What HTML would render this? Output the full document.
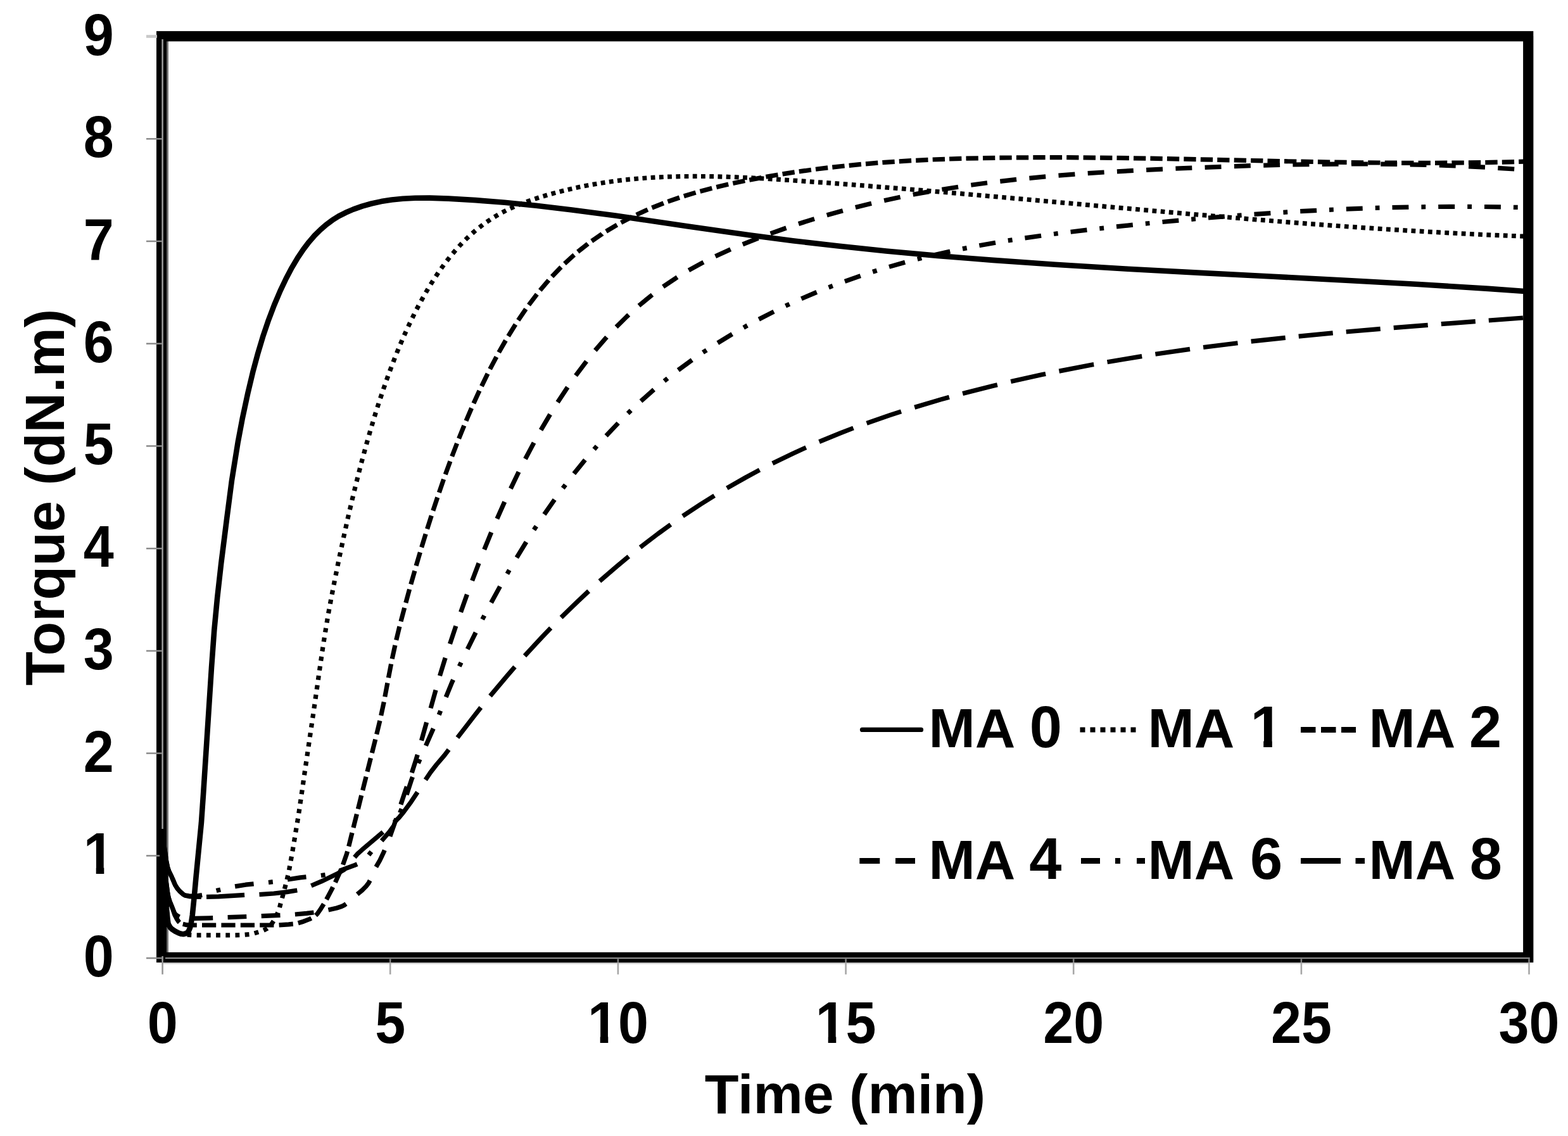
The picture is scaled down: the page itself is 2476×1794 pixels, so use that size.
<!DOCTYPE html>
<html lang="en"><head><meta charset="utf-8"><title>Torque vs Time</title>
<style>html,body{margin:0;padding:0;background:#fff}body{width:2476px;height:1794px;overflow:hidden}svg{display:block}svg{filter:blur(0.6px)}text{font-family:'Liberation Sans', Arial, Helvetica, sans-serif;font-weight:700;font-size:88px;fill:#000}.c{fill:none;stroke:#000;stroke-width:7.2;stroke-linejoin:round}.r{stroke-linecap:butt}</style></head><body>
<svg xmlns="http://www.w3.org/2000/svg" width="2476" height="1794" viewBox="0 0 2476 1794">
<rect width="2476" height="1794" fill="#fff"/>
<rect x="263" y="65" width="3" height="1440" fill="#777"/>
<rect x="255" y="1519" width="2160" height="3.4" fill="#ccc"/>
<rect x="2420" y="57" width="3" height="1460" fill="#eee"/>
<rect x="255.1" y="57.25" width="2158.1" height="1454.7" fill="none" stroke="#000" stroke-width="16.2"/>
<line x1="256.6" x2="256.6" y1="62" y2="1538.8" stroke="#999" stroke-width="2.6"/>
<line x1="261" x2="2415.8" y1="1513.1" y2="1513.1" stroke="#8c8c8c" stroke-width="2.4"/>
<g stroke="#8a8a8a" stroke-width="2.5">
<path d="M231 1513.1H256"/>
<path d="M231 1351.4H256"/>
<path d="M231 1189.6H256"/>
<path d="M231 1027.9H256"/>
<path d="M231 866.2H256"/>
<path d="M231 704.4H256"/>
<path d="M231 542.7H256"/>
<path d="M231 381H256"/>
<path d="M231 219.3H256"/>
<path d="M231 57.5H248" stroke="#c8c8c8" stroke-width="4.6"/>
</g>
<g stroke="#a6a6a6" stroke-width="2.6">
<path d="M616.2 1514.3V1520" stroke="#808080"/><path d="M616.2 1520V1538.8"/>
<path d="M975.9 1514.3V1520" stroke="#808080"/><path d="M975.9 1520V1538.8"/>
<path d="M1335.6 1514.3V1520" stroke="#808080"/><path d="M1335.6 1520V1538.8"/>
<path d="M1695.2 1514.3V1520" stroke="#808080"/><path d="M1695.2 1520V1538.8"/>
<path d="M2054.9 1514.3V1520" stroke="#808080"/><path d="M2054.9 1520V1538.8"/>
<path d="M2414.5 1514.3V1520" stroke="#808080"/><path d="M2414.5 1520V1538.8"/>
</g>
<g class="c">
<path d="M256.6 1510V1309.3" stroke-width="9"/>
<path d="M256.6 1309.3L259.5 1337.7L262.6 1359.4L264.7 1369.5L266.7 1375.7L270.1 1382.6L273 1389L276.5 1397.4L279.9 1402.9L283.6 1407.3L289.4 1412.5L292.3 1414.2L298.6 1415.6L304.9 1416.1L317.9 1416.3"/>
<path class="r" d="M326 1416.4L345.2 1415.8L386.1 1413.4M409.5 1412.6L432.4 1411L453.1 1408.6L469.3 1406M491.4 1398.7L507.5 1391.9L534.2 1378.9L541.7 1374.5L545.2 1372M559.9 1353.8L564.2 1348.8L571.7 1342.1L604.8 1313.9M622.5 1298.6L630.1 1291.1L637.5 1282.1L649.3 1266.1L659.3 1251.1M671.9 1231.4L679.8 1219.7L689.3 1207.5L702 1192.6L708.6 1183.8M722.4 1164.9L749.2 1130.1L759.3 1117.3M774 1099.1L800.7 1067.4L813 1053.2M828.5 1035.7L855.3 1006.7L869.7 991.8M886.1 975.1L913.2 948.8L929.6 933.5M946.9 917.8L974.2 894.2L992.8 878.8M1011 864.3L1038.9 843L1059.1 828.4M1078.1 815.1L1106.5 796.3L1128.1 782.8M1147.9 770.9L1177.6 754L1199.5 742.2M1219.9 731.7L1251 716.7L1272.8 706.7M1293.6 697.6L1327.2 683.9L1347.5 676M1368.6 668.3L1405.2 655.6L1423 649.8M1444.2 643.2L1485.7 630.9L1498.9 627.3M1520.1 621.5L1567.5 609.5L1574.9 607.7M1596.2 602.6L1645.7 591.6L1651.1 590.5M1672.4 586.1L1724.5 576L1727.2 575.6M1748.5 571.7L1803.2 562.6M1824.4 559.3L1879 551.4M1900.1 548.5L1954.5 541.7M1975.6 539.2L2029.7 533.3M2050.7 531.2L2104.7 525.9M2125.7 524L2179.7 519.4M2200.7 517.6L2254.7 513.3M2275.8 511.7L2329.8 507.6M2350.8 506L2404.9 502"/>
<path d="M256.6 1309.3L259.5 1337.7L262.6 1359.4L264.7 1369.5L266.7 1375.7L270.1 1382.6L273 1389L276.5 1397.4L279.9 1402.9L283.6 1407.3L289.4 1412.4L292 1413.8L298.3 1414.9L304.6 1415.2L312.7 1414.5L317 1413.9"/>
<path class="r" d="M317 1413.9L319.1 1413.5M371.1 1399.9L387.8 1397.2L400.6 1395.8M454 1389L474.1 1385.9L483.5 1384.9M536.2 1375.2L559.3 1366.7L564 1364.6M602.6 1327.8L614.5 1314.2L620 1306.7L621.3 1304.7M642.1 1255.2L649.9 1231.2L651.5 1227M672.4 1177.6L684.3 1150.5M704.2 1100.8L713.8 1077.4L715.6 1073.4M738.2 1025.2L751.2 998.8M775.6 951.8L789.6 926.1M815.9 880.6L831 855.9M859.4 812.4L875.7 789M906.3 748.1L923.9 726.3M957.1 688.3L976.2 668.1M1012 633.5L1032.6 615.3M1070.9 584.5L1092.8 568.5M1133.3 541.6L1156.2 527.7M1198.3 504.2L1222 492.1M1265.4 471.8L1289.7 461.4M1334 444.3L1358.8 435.6M1404 421.4L1429.1 414.3M1474.9 402.8L1500.3 397M1546.4 387.8L1572 383.2M1618.4 375.9L1644.1 372.2M1690.6 366.2L1716.4 363.1M1763 357.9L1788.8 355.2M1835.5 350.5L1861.3 348.1M1908 344L1933.8 341.9M1980.5 338.3L2006.4 336.6M2053.2 333.7L2079.1 332.3M2125.8 330.1L2151.7 329.1M2198.5 327.7L2224.4 327.1M2271.2 326.5L2297.2 326.3M2344 326.5L2369.9 326.9"/>
<path d="M341.6 1406.6L348.2 1404.9M424 1393.5L430.8 1392.7M506.9 1382.6L513.6 1381.6M582.2 1350.2L586.4 1344.9M631.6 1283.6L634.2 1277.3M660.4 1205.3L663.1 1199.1M693.2 1128.9L695.7 1122.5M725.3 1052.3L728.2 1046.2M761.7 978.2L764.8 972.2M800.9 906.2L804.3 900.3M843.1 836.8L846.9 831.1M888.8 771L892.9 765.6M938.1 709.6L942.5 704.5M991.4 652.9L996.3 648.2M1048.9 601.7L1054.2 597.5M1110 556.6L1115.7 552.9M1174.2 517.3L1180.1 514M1240.5 483.1L1246.7 480.2M1308.6 453.8L1314.9 451.4M1378.1 429.3L1384.6 427.2M1448.7 409.2L1455.3 407.5M1520 392.9L1526.7 391.6M1591.8 379.9L1598.6 378.9M1664 369.5L1670.7 368.6M1736.3 360.8L1743.1 360.1M1808.8 353.1L1815.5 352.5M1881.2 346.3L1888 345.7M1953.8 340.3L1960.6 339.8M2026.4 335.3L2033.2 334.9M2099 331.3L2105.8 331M2171.7 328.4L2178.5 328.2M2244.4 326.8L2251.2 326.7M2317.2 326.4L2324 326.4M2389.9 327.3L2396.7 327.4"/>
<path d="M256.6 1309.3L259.5 1358.4L262.6 1393.6L264.7 1409.9L266.1 1417.2L268.4 1424.5L273 1435.6L275.6 1441.9L277 1443.8L280.5 1446.5L283.4 1447.9"/>
<path class="r" d="M306.4 1450.3L330.5 1449.8L336.2 1449.6M359.6 1448.6L389.3 1447.5M412.7 1446.6L442.5 1445.3M465.9 1444L484.2 1442.4L495.5 1441M518.5 1437L531.7 1434L539.4 1431.5L543.5 1429.5L546.5 1427.4M564.2 1412.2L572.8 1405.1L578 1399.8L582.3 1394.2L584.2 1390.5M593.8 1369.1L599.8 1358.7L606.2 1345.2L607.3 1342.6M615.9 1320.9L625.8 1292.8M632.9 1270.5L640.7 1247L642.4 1242.3M650.3 1220.3L656.8 1200.2L659.3 1191.9M665.5 1169.4L673.6 1140.8M680.1 1118.4L688.1 1089.7M694.5 1067.3L703.2 1038.9M710.5 1016.8L719.9 988.7M727.6 966.7L737.5 938.8M745.6 917L756.1 889.4M764.7 867.9L775.8 840.6M784.9 819.3L796.8 792.5M806.4 771.6L819.1 745.2M829.5 724.8L843.1 699.1M854.1 679.2L868.7 654.4M880.6 635.2L896.3 611.4M909.1 593.2L925.3 571.6L926 570.6M939.8 553.4L956 534.7L958.1 532.3M973.1 516.4L989.7 500L992.8 497.1M1008.9 482.7L1026 468.7L1030 465.5M1047.1 452.8L1065.4 440.5L1069.5 437.8M1087.5 426.9L1108 415.6L1110.9 414.1M1129.6 404.8L1153.7 393.8M1172.8 385.8L1197.4 376.1M1216.7 368.8L1241.5 360M1261 353.5L1286 345.6M1305.7 339.8L1330.9 332.7M1350.8 327.5L1376.1 321.3M1396.1 316.8L1421.6 311.3M1441.7 307.3L1467.3 302.6M1487.4 299.2L1513.1 295.2M1533.3 292.2L1559 288.8M1579.3 286.3L1605.1 283.4M1625.4 281.3L1651.2 278.9M1671.5 277.1L1697.4 275.1M1717.7 273.7L1743.6 272M1763.9 270.8L1789.8 269.4M1810.1 268.3L1836 267.1M1856.4 266.2L1882.3 265.1M1902.6 264.3L1928.5 263.3M1948.9 262.6L1974.8 261.7M1995.2 261.1L2021.1 260.5M2041.4 260L2067.4 259.6M2087.7 259.3L2113.6 259.1M2134 259L2159.9 259M2180.3 259.1L2206.2 259.4M2226.6 259.8L2252.5 260.4M2272.8 261L2298.7 262M2319.1 262.8L2345 264.2M2365.3 265.3L2391.2 267M2411.5 268.5L2414.5 268.7"/>
<path d="M256.6 1309.3L259.5 1358.4L262.6 1393.6L264.7 1409.9L266.1 1417.2L268.1 1423.6L271.8 1432.6L275.9 1444.9L279 1450.9L282.2 1455.6L283.4 1456.8"/>
<path class="r" d="M288.8 1459.3L294.9 1460.7L300.3 1461L310.8 1461M319 1461L341.2 1461M349.4 1461L371.6 1461M379.8 1461L402 1461M410.2 1461L432.4 1461M440.6 1460.9L455.7 1459.8L462.8 1459.1M470.8 1457.7L479.3 1455.2L488.8 1451.5L491.6 1450.1M498.5 1445.6L501.2 1443L505.5 1436.8L511.3 1427.6M515.5 1420.5L523.6 1405.1L525.7 1400.8M529.4 1393.5L537.1 1376.4L538.5 1373.2M541.5 1365.6L547.5 1348.5L548.6 1344.6M550.7 1336.7L556 1315.1M558 1307.2L563.4 1285.6M565.4 1277.7L570.7 1256.1M572.7 1248.2L578.1 1226.6M580 1218.7L585.4 1197.1M587.4 1189.2L592.8 1167.6M594.7 1159.7L599.9 1138.1M601.7 1130.1L606.3 1108.4M607.8 1100.3L611.9 1078.5M613.4 1070.4L617.6 1048.6M619.2 1040.6L623.9 1018.9M625.7 1010.9L630.9 989.3M633 981.4L638.7 959.9M640.8 952L646.6 930.6M648.8 922.7L654.9 901.4M657.1 893.5L663.4 872.3M665.7 864.4L672.2 843.2M674.6 835.4L681.3 814.3M683.8 806.5L690.8 785.5M693.4 777.8L700.6 756.9M703.3 749.2L710.9 728.4M713.7 720.8L721.6 700.2M724.6 692.6L732.9 672.2M736 664.7L744.6 644.5M747.9 637L757 617.1M760.5 609.8L770.1 590.1M773.7 582.9L783.9 563.6M787.7 556.5L798.5 537.6M802.6 530.8L814 512.4M818.3 505.7L830.4 488M835 481.6L847.9 464.6M852.8 458.5L866.4 442.5M871.6 436.7L885.8 421.9L886 421.7M891.5 416.4L906 403.2L906.7 402.6M912.4 397.7L927.6 385.7L928.3 385.1M934.3 380.7L950.6 369.6L950.9 369.3M957.1 365.4L974.3 355.2M980.7 351.6L998.3 342.4M1004.9 339.2L1022.8 331M1029.5 328.2L1047.8 320.9M1054.5 318.4L1073 312M1079.9 309.8L1098.6 304.1M1105.5 302.2L1124.3 297.2M1131.3 295.5L1150.2 291.1M1157.3 289.6L1176.3 285.6M1183.3 284.2L1202.3 280.6M1209.4 279.3L1228.5 276M1235.6 274.9L1254.7 271.9M1261.8 270.9L1280.9 268.2M1288 267.3L1307.2 264.9M1314.3 264.1L1333.6 262M1340.7 261.3L1359.9 259.4M1367 258.8L1386.3 257.2M1393.4 256.7L1412.7 255.3M1419.8 254.8L1439.1 253.7M1446.2 253.3L1465.5 252.4M1472.7 252L1492 251.3M1499.1 251L1518.4 250.4M1525.5 250.2L1544.8 249.8M1552 249.6L1571.3 249.3M1578.4 249.2L1597.7 249M1604.9 248.9L1624.2 248.8M1631.3 248.7L1650.6 248.7M1657.8 248.7L1677.1 248.7M1684.2 248.7L1703.5 248.8M1710.6 248.9L1730 249.1M1737.1 249.1L1756.4 249.3M1763.5 249.4L1782.9 249.7M1790 249.8L1809.3 250.1M1816.4 250.2L1835.7 250.6M1842.9 250.7L1862.2 251.1M1869.3 251.2L1888.6 251.6M1895.8 251.8L1915.1 252.2M1922.2 252.4L1941.5 252.8M1948.7 252.9L1968 253.4M1975.1 253.5L1994.4 253.9M2001.5 254.1L2020.9 254.5M2028 254.7L2047.3 255M2054.4 255.2L2073.7 255.5M2080.9 255.7L2100.2 256M2107.3 256.1L2126.6 256.4M2133.8 256.5L2153.1 256.8M2160.2 256.8L2179.5 257M2186.7 257.1L2206 257.2M2213.1 257.3L2232.4 257.3M2239.6 257.3L2258.9 257.3M2266 257.3L2285.3 257.2M2292.4 257.2L2311.8 257M2318.9 256.9L2338.2 256.7M2345.3 256.6L2364.7 256.2M2371.8 256.1L2391.1 255.6M2398.2 255.4L2414.5 254.9"/>
<path d="M256.6 1309.3L259.5 1378.9L263.2 1438.2L264.7 1453.7L265.5 1459.2L266.4 1461.4L268.7 1464.9L271.3 1467.3L277.6 1471.1L283.6 1473.7L289.7 1475.2L292.6 1475.8"/>
<path d="M295.6 1476.2L302.3 1476.6M310.7 1476.8L317.5 1476.8M325.9 1476.9L332.7 1476.9M341.1 1476.9L347.9 1476.9M356.3 1476.9L363.1 1476.9M371.5 1476.9L378.3 1476.7M386.7 1476.2L393.5 1475.6M401.7 1473.9L408.2 1471.9M416.2 1469.2L421.5 1466.6L422.2 1466.1M428.2 1460.3L432 1454.6M435.9 1447.2L438.8 1441.1M441.5 1433.1L443.2 1426.5M445.5 1418.4L447.3 1411.9M449.4 1403.8L451.1 1397.2M453.1 1389L454.7 1382.4M456.5 1374.2L457.7 1367.5M459.2 1359.3L460.4 1352.6M461.9 1344.3L463 1337.6M464.4 1329.3L465.5 1322.6M466.8 1314.3L468 1307.6M469.4 1299.3L470.5 1292.6M471.8 1284.3L472.8 1277.6M474 1269.3L475 1262.5M476.2 1254.2L477.2 1247.5M478.4 1239.2L479.3 1232.4M480.5 1224.1L481.5 1217.4M482.7 1209.1L483.7 1202.4M484.9 1194L485.9 1187.3M487.1 1179L488.1 1172.3M489.3 1164L490.3 1157.2M491.5 1148.9L492.5 1142.2M493.7 1133.9L494.7 1127.2M495.9 1118.8L496.9 1112.1M498.1 1103.8L499 1097.1M500.2 1088.8L501.2 1082M502.4 1073.7L503.3 1067M504.5 1058.7L505.5 1051.9M506.7 1043.6L507.7 1036.9M508.9 1028.6L509.9 1021.9M511.2 1013.5L512.3 1006.8M513.6 998.5L514.7 991.8M516.1 983.5L517.2 976.8M518.6 968.6L519.8 961.9M521.4 953.6L522.6 946.9M524.2 938.7L525.5 932M527.1 923.8L528.4 917.1M530.1 908.8L531.4 902.2M533.1 893.9L534.4 887.3M536.1 879.1L537.5 872.4M539.3 864.2L540.7 857.5M542.4 849.3L543.9 842.7M545.7 834.5L547.2 827.8M549 819.6L550.5 813M552.4 804.8L554 798.2M555.9 790L557.5 783.4M559.5 775.2L561.1 768.6M563.1 760.5L564.8 753.9M566.8 745.8L568.5 739.2M570.6 731L572.4 724.5M574.6 716.4L576.4 709.8M578.6 701.7L580.4 695.2M582.8 687.1L584.6 680.5M587 672.5L589 666M591.4 657.9L593.4 651.4M595.9 643.4L598 637M600.6 629L602.8 622.5M605.4 614.6L607.7 608.1M610.4 600.2L612.7 593.8M615.6 585.9L618 579.5M621 571.7L623.4 565.3M626.5 557.5L629.1 551.2M632.3 543.5L635 537.2M638.3 529.6L641.1 523.4M644.6 515.7L647.5 509.6M651.1 502.1L654.1 496M657.9 488.5L661 482.5M665 475.2L668.3 469.2M672.4 462L675.8 456.2M680.1 449.1L683.7 443.3M688.2 436.4L692 430.7M696.7 424L700.7 418.5M705.6 412L709.8 406.6M715 400.3L719.4 395.2M724.8 389.1L729.4 384.2M735 378.5L739.9 373.8M745.8 368.5L750.9 364M757 359.1L762.4 355M768.6 350.5L774.3 346.7M780.7 342.6L786.5 339.1M793.1 335.5L799.1 332.4M805.7 329.2L811.9 326.4M818.5 323.6L824.9 321M831.5 318.6L837.9 316.3M844.5 314.1L851 312M857.6 310L864.1 308M870.6 306.2L877.2 304.4M883.7 302.7L890.3 301M896.7 299.5L903.3 297.9M909.6 296.5L916.3 295.1M922.6 293.8L929.3 292.5M935.7 291.4L942.4 290.2M948.8 289.2L955.5 288.1M961.9 287.2L968.6 286.3M975 285.4L981.8 284.6M988.2 283.9L994.9 283.2M1001.3 282.6L1008.1 282M1014.5 281.5L1021.3 281M1027.7 280.5L1034.5 280.1M1040.9 279.8L1047.7 279.5M1054.1 279.2L1060.9 279M1067.4 278.8L1074.2 278.6M1080.6 278.5L1087.4 278.5M1093.8 278.4L1100.6 278.4M1107 278.5L1113.8 278.5M1120.3 278.6L1127.1 278.7M1133.5 278.9L1140.3 279.1M1146.7 279.2L1153.5 279.5M1159.9 279.7L1166.7 280M1173.1 280.3L1179.9 280.6M1186.3 280.9L1193.1 281.3M1199.6 281.6L1206.3 282M1212.8 282.4L1219.6 282.8M1226 283.2L1232.8 283.7M1239.2 284.1L1246 284.5M1252.4 285L1259.2 285.4M1265.6 285.9L1272.4 286.4M1278.8 286.8L1285.6 287.3M1292 287.8L1298.8 288.2M1305.2 288.7L1312 289.2M1318.4 289.7L1325.1 290.2M1331.6 290.7L1338.3 291.2M1344.8 291.7L1351.5 292.2M1358 292.7L1364.7 293.2M1371.1 293.7L1377.9 294.3M1384.3 294.8L1391.1 295.3M1397.5 295.8L1404.3 296.4M1410.7 296.9L1417.5 297.4M1423.9 297.9L1430.7 298.5M1437.1 299L1443.9 299.6M1450.3 300.1L1457.1 300.7M1463.5 301.2L1470.3 301.8M1476.7 302.3L1483.4 302.9M1489.9 303.5L1496.6 304M1503 304.6L1509.8 305.2M1516.2 305.7L1523 306.3M1529.4 306.9L1536.2 307.5M1542.6 308L1549.4 308.6M1555.8 309.2L1562.6 309.8M1569 310.3L1575.8 310.9M1582.2 311.5L1588.9 312.1M1595.3 312.7L1602.1 313.3M1608.5 313.8L1615.3 314.4M1621.7 315L1628.5 315.6M1634.9 316.2L1641.7 316.8M1648.1 317.4L1654.9 318M1661.3 318.6L1668 319.2M1674.5 319.8L1681.2 320.4M1687.6 320.9L1694.4 321.5M1700.8 322.1L1707.6 322.7M1714 323.3L1720.8 323.9M1727.2 324.5L1734 325.1M1740.4 325.7L1747.1 326.3M1753.6 326.9L1760.3 327.5M1766.7 328.1L1773.5 328.7M1779.9 329.2L1786.7 329.8M1793.1 330.4L1799.9 331M1806.3 331.6L1813.1 332.2M1819.5 332.8L1826.3 333.4M1832.7 333.9L1839.4 334.5M1845.8 335.1L1852.6 335.7M1859 336.2L1865.8 336.8M1872.2 337.4L1879 338M1885.4 338.5L1892.2 339.1M1898.6 339.7L1905.4 340.2M1911.8 340.8L1918.6 341.4M1925 341.9L1931.7 342.5M1938.2 343L1944.9 343.6M1951.3 344.1L1958.1 344.7M1964.5 345.2L1971.3 345.8M1977.7 346.3L1984.5 346.9M1990.9 347.4L1997.7 347.9M2004.1 348.5L2010.9 349M2017.3 349.5L2024.1 350M2030.5 350.6L2037.3 351.1M2043.7 351.6L2050.5 352.1M2056.9 352.6L2063.7 353.1M2070.1 353.6L2076.9 354.1M2083.3 354.6L2090.1 355.1M2096.5 355.6L2103.3 356.1M2109.7 356.5L2116.4 357M2122.9 357.5L2129.6 358M2136.1 358.4L2142.8 358.9M2149.3 359.3L2156 359.8M2162.5 360.2L2169.2 360.7M2175.7 361.1L2182.5 361.5M2188.9 362L2195.7 362.4M2202.1 362.8L2208.9 363.2M2215.3 363.6L2222.1 364.1M2228.5 364.4L2235.3 364.8M2241.7 365.2L2248.5 365.6M2254.9 366L2261.7 366.4M2268.1 366.7L2274.9 367.1M2281.3 367.5L2288.1 367.8M2294.5 368.2L2301.3 368.5M2307.7 368.9L2314.5 369.2M2320.9 369.5L2327.7 369.8M2334.2 370.2L2340.9 370.5M2347.4 370.8L2354.2 371.1M2360.6 371.4L2367.4 371.6M2373.8 371.9L2380.6 372.2M2387 372.5L2393.8 372.7M2400.2 373L2407 373.2"/>
<path d="M256.6 1309.3L259.5 1379L262.9 1433.8L264.7 1452.9L265.5 1458.3L266.4 1460.6L268.7 1464.4L271.3 1467.2L276.5 1470.6L282.2 1473.5L286.2 1474.8L289.7 1475.1L292.9 1474.3L296.3 1472.6L297.7 1470.7L300 1465.4L301.8 1457.9L303.8 1445.3L306.7 1416.4L309.8 1382.3L317.9 1299.7L321 1255.1L334 1054.2L338.3 995L343.2 943.4L349.2 889.8L358.2 818.6L365.9 759.4L375.7 698.4L382.6 661.7L391.3 621.1L399.3 587.4L407.4 557.4L415.7 529.8L424.1 505.2L433 481.8L442.5 459.4L451.7 440L460.9 422.6L470.1 407.1L479 393.9L487.9 382.2L496.8 371.9L506.1 362.7L515.3 354.7L524.8 347.7L534.8 341.4L545.8 335.8L557.8 330.6L571.9 325.6L586.6 321.5L602.2 318.1L618.6 315.5L636.1 313.7L655.7 312.7L678.4 312.6L708.3 313.6L750.9 316.1L796.7 319.8L846.7 324.8L903.1 331.4L971.9 340.6L1086.7 357.4L1183.3 371.3L1252.1 380.2L1323.8 388.6L1399.4 396.5L1480.3 403.9L1568 410.9L1665.9 417.8L1780.7 424.7L1895.5 430.9L2010.3 436.8L2125.1 442.7L2239.9 449L2350.1 455.9L2414.5 460.5" stroke-width="8.6"/>
</g>
<g text-anchor="end">
<text transform="translate(179.6 1542.1) scale(0.98 1.055)">0</text>
<text transform="translate(179.6 1380.4) scale(0.98 1.055)">1</text>
<text transform="translate(179.6 1218.6) scale(0.98 1.055)">2</text>
<text transform="translate(179.6 1056.9) scale(0.98 1.055)">3</text>
<text transform="translate(179.6 895.2) scale(0.98 1.055)">4</text>
<text transform="translate(179.6 733.4) scale(0.98 1.055)">5</text>
<text transform="translate(179.6 571.7) scale(0.98 1.055)">6</text>
<text transform="translate(179.6 410) scale(0.98 1.055)">7</text>
<text transform="translate(179.6 248.3) scale(0.98 1.055)">8</text>
<text transform="translate(179.6 86.5) scale(0.98 1.055)">9</text>
</g>
<g text-anchor="middle">
<text transform="translate(256.6 1646.5) scale(0.98 1.055)">0</text>
<text transform="translate(616.2 1646.5) scale(0.98 1.055)">5</text>
<text transform="translate(975.9 1646.5) scale(0.98 1.055)">10</text>
<text transform="translate(1335.6 1646.5) scale(0.98 1.055)">15</text>
<text transform="translate(1695.2 1646.5) scale(0.98 1.055)">20</text>
<text transform="translate(2054.9 1646.5) scale(0.98 1.055)">25</text>
<text transform="translate(2414.5 1646.5) scale(0.98 1.055)">30</text>
<text x="1334.5" y="1757.5">Time (min)</text>
<text transform="translate(101.3 785.3) rotate(-90)">Torque (dN.m)</text>
</g>
<g class="c" stroke-width="8.6">
<path d="M1361.5 1152.4 H1454.5" stroke-linecap="round"/>
<path d="M1357.3 1359.5 H1445" stroke-dasharray="32 24.7" stroke-width="9"/>
<path d="M1705.5 1152.4 H1794" stroke-dasharray="8 8" stroke-width="8"/>
<path d="M1707 1359.5 H1808" stroke-dasharray="30 24 8 26" stroke-width="9"/>
<path d="M2054 1152.4 H2141" stroke-dasharray="23.5 8.5" stroke-width="9"/>
<path d="M2054 1359.5 H2155" stroke-dasharray="63 23.5" stroke-width="9"/>
</g>
<g style="font-size:88.6px">
<text x="1466.5" y="1180.3">MA <tspan x="1651.4" text-anchor="middle" style="font-size:92px">0</tspan></text>
<text x="1812.5" y="1180.3">MA <tspan x="2000" text-anchor="middle" style="font-size:92px">1</tspan></text>
<text x="2161.5" y="1180.3">MA <tspan x="2345.6" text-anchor="middle" style="font-size:92px">2</tspan></text>
<text x="1466.5" y="1387.9">MA <tspan x="1650.8" text-anchor="middle" style="font-size:92px">4</tspan></text>
<text x="1812.5" y="1387.9">MA <tspan x="1999.6" text-anchor="middle" style="font-size:92px">6</tspan></text>
<text x="2161.5" y="1387.9">MA <tspan x="2346.3" text-anchor="middle" style="font-size:92px">8</tspan></text>
</g>
<g fill="#fff"><rect x="931" y="1636.6" width="16.7" height="12"/><rect x="960.3" y="1636.6" width="15" height="12"/><rect x="1291" y="1636.6" width="16.7" height="12"/><rect x="1320.3" y="1636.6" width="15" height="12"/><rect x="135" y="1369.6" width="16.7" height="12"/><rect x="164.3" y="1369.6" width="15" height="12"/><rect x="1979" y="1169.6" width="16.2" height="12.5"/><rect x="2008.8" y="1169.6" width="16" height="12.5"/></g>
</svg></body></html>
